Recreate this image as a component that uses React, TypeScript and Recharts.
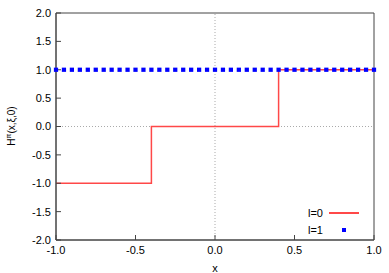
import { ComposedChart, Line, Scatter, XAxis, YAxis, ZAxis, ReferenceLine, ReferenceArea } from "recharts";

const xTicks = [-1, -0.5, 0, 0.5, 1];
const yTicks = [-2, -1.5, -1, -0.5, 0, 0.5, 1, 1.5, 2];

// l=0 : step function
const stepX = [-1, -0.4, 0.4, 1];
const stepY = [-1, 0, 1, 1];

// l=1 : constant points
const dotX = [
  -1, -0.95, -0.9, -0.85, -0.8, -0.75, -0.7, -0.65, -0.6, -0.55, -0.5, -0.45, -0.4, -0.35,
  -0.3, -0.25, -0.2, -0.15, -0.1, -0.05, 0, 0.05, 0.1, 0.15, 0.2, 0.25, 0.3, 0.35, 0.4, 0.45,
  0.5, 0.55, 0.6, 0.65, 0.7, 0.75, 0.8, 0.85, 0.9, 0.95, 1,
];
const dotY = [
  1, 1, 1, 1, 1, 1, 1, 1, 1, 1, 1, 1, 1, 1, 1, 1, 1, 1, 1, 1, 1, 1, 1, 1, 1, 1, 1, 1, 1, 1,
  1, 1, 1, 1, 1, 1, 1, 1, 1, 1, 1,
];

const stepData = stepX.map((x, i) => ({ x, y: stepY[i] }));
const dotData = dotX.map((x, i) => ({ x, y: dotY[i] }));

const font = "'Liberation Sans', Arial, sans-serif";
const tickStyle = { fontSize: 11, fill: "#000", fontFamily: font };
const fmt = (v: number) => v.toFixed(1);

function YLabel() {
  return (
    <text
      transform="translate(15,126) rotate(-90)"
      textAnchor="middle"
      fontSize={10}
      fontFamily={font}
      fill="#000"
    >
      <tspan>H</tspan>
      <tspan fontSize={7} dy={-4}>π</tspan>
      <tspan dy={4}>(x,ξ,0)</tspan>
    </text>
  );
}

export default function App() {
  return (
    <div style={{ position: "absolute", left: 0, top: 0, background: "#fff" }}>
      <ComposedChart
        width={389}
        height={273}
        margin={{ top: 13, right: 15, bottom: 0, left: 26 }}
      >
        <XAxis
          xAxisId="b"
          dataKey="x"
          type="number"
          domain={[-1, 1]}
          ticks={xTicks}
          tickFormatter={fmt}
          tick={tickStyle}
          tickSize={-5}
          tickMargin={11}
          height={33}
          stroke="#444"
          allowDuplicatedCategory={false}
          label={{ value: "x", position: "insideBottom", offset: 1, fontSize: 11, fill: "#000", fontFamily: font }}
        />
        <XAxis
          xAxisId="t"
          dataKey="x"
          type="number"
          orientation="top"
          domain={[-1, 1]}
          ticks={xTicks}
          tick={false}
          tickSize={-5}
          height={0}
          stroke="#444"
        />
        <YAxis
          yAxisId="l"
          type="number"
          domain={[-2, 2]}
          ticks={yTicks}
          tickFormatter={fmt}
          tick={tickStyle}
          tickSize={-5}
          tickMargin={10}
          width={30}
          stroke="#444"
          interval={0}
        />
        <YAxis
          yAxisId="r"
          type="number"
          orientation="right"
          domain={[-2, 2]}
          ticks={yTicks}
          tick={false}
          tickSize={-5}
          width={0}
          stroke="#444"
        />
        <ZAxis range={[18, 18]} />
        <ReferenceArea
          xAxisId="b"
          yAxisId="l"
          x1={-1}
          x2={1}
          y1={-2}
          y2={2}
          fill="none"
          fillOpacity={0}
          stroke="#444"
          strokeOpacity={1}
        />
        <ReferenceLine xAxisId="b" yAxisId="l" x={0} stroke="#aaa" strokeDasharray="1 2" />
        <ReferenceLine xAxisId="b" yAxisId="l" y={0} stroke="#aaa" strokeDasharray="1 2" />
        <Line
          xAxisId="b"
          yAxisId="l"
          data={stepData}
          dataKey="y"
          type="stepAfter"
          stroke="#ff4848"
          strokeWidth={1.5}
          dot={false}
          isAnimationActive={false}
        />
        <Scatter
          xAxisId="b"
          yAxisId="l"
          data={dotData}
          dataKey="y"
          fill="#0000ff"
          shape="square"
          legendType="none"
          isAnimationActive={false}
        />
        <YLabel />
      </ComposedChart>
      <div
        style={{
          position: "absolute",
          left: 290,
          top: 204,
          width: 80,
          fontFamily: font,
          fontSize: 11,
          color: "#000",
        }}
      >
        <div style={{ display: "flex", alignItems: "center", height: 17 }}>
          <span style={{ width: 33, textAlign: "right" }}>l=0</span>
          <span
            style={{
              display: "block",
              flexShrink: 0,
              marginLeft: 6,
              width: 30,
              height: 2,
              background: "#ff4848",
            }}
          />
        </div>
        <div style={{ display: "flex", alignItems: "center", height: 17 }}>
          <span style={{ width: 33, textAlign: "right" }}>l=1</span>
          <span
            style={{
              display: "block",
              flexShrink: 0,
              marginLeft: 19,
              width: 4,
              height: 4,
              background: "#0000ff",
            }}
          />
        </div>
      </div>
    </div>
  );
}
